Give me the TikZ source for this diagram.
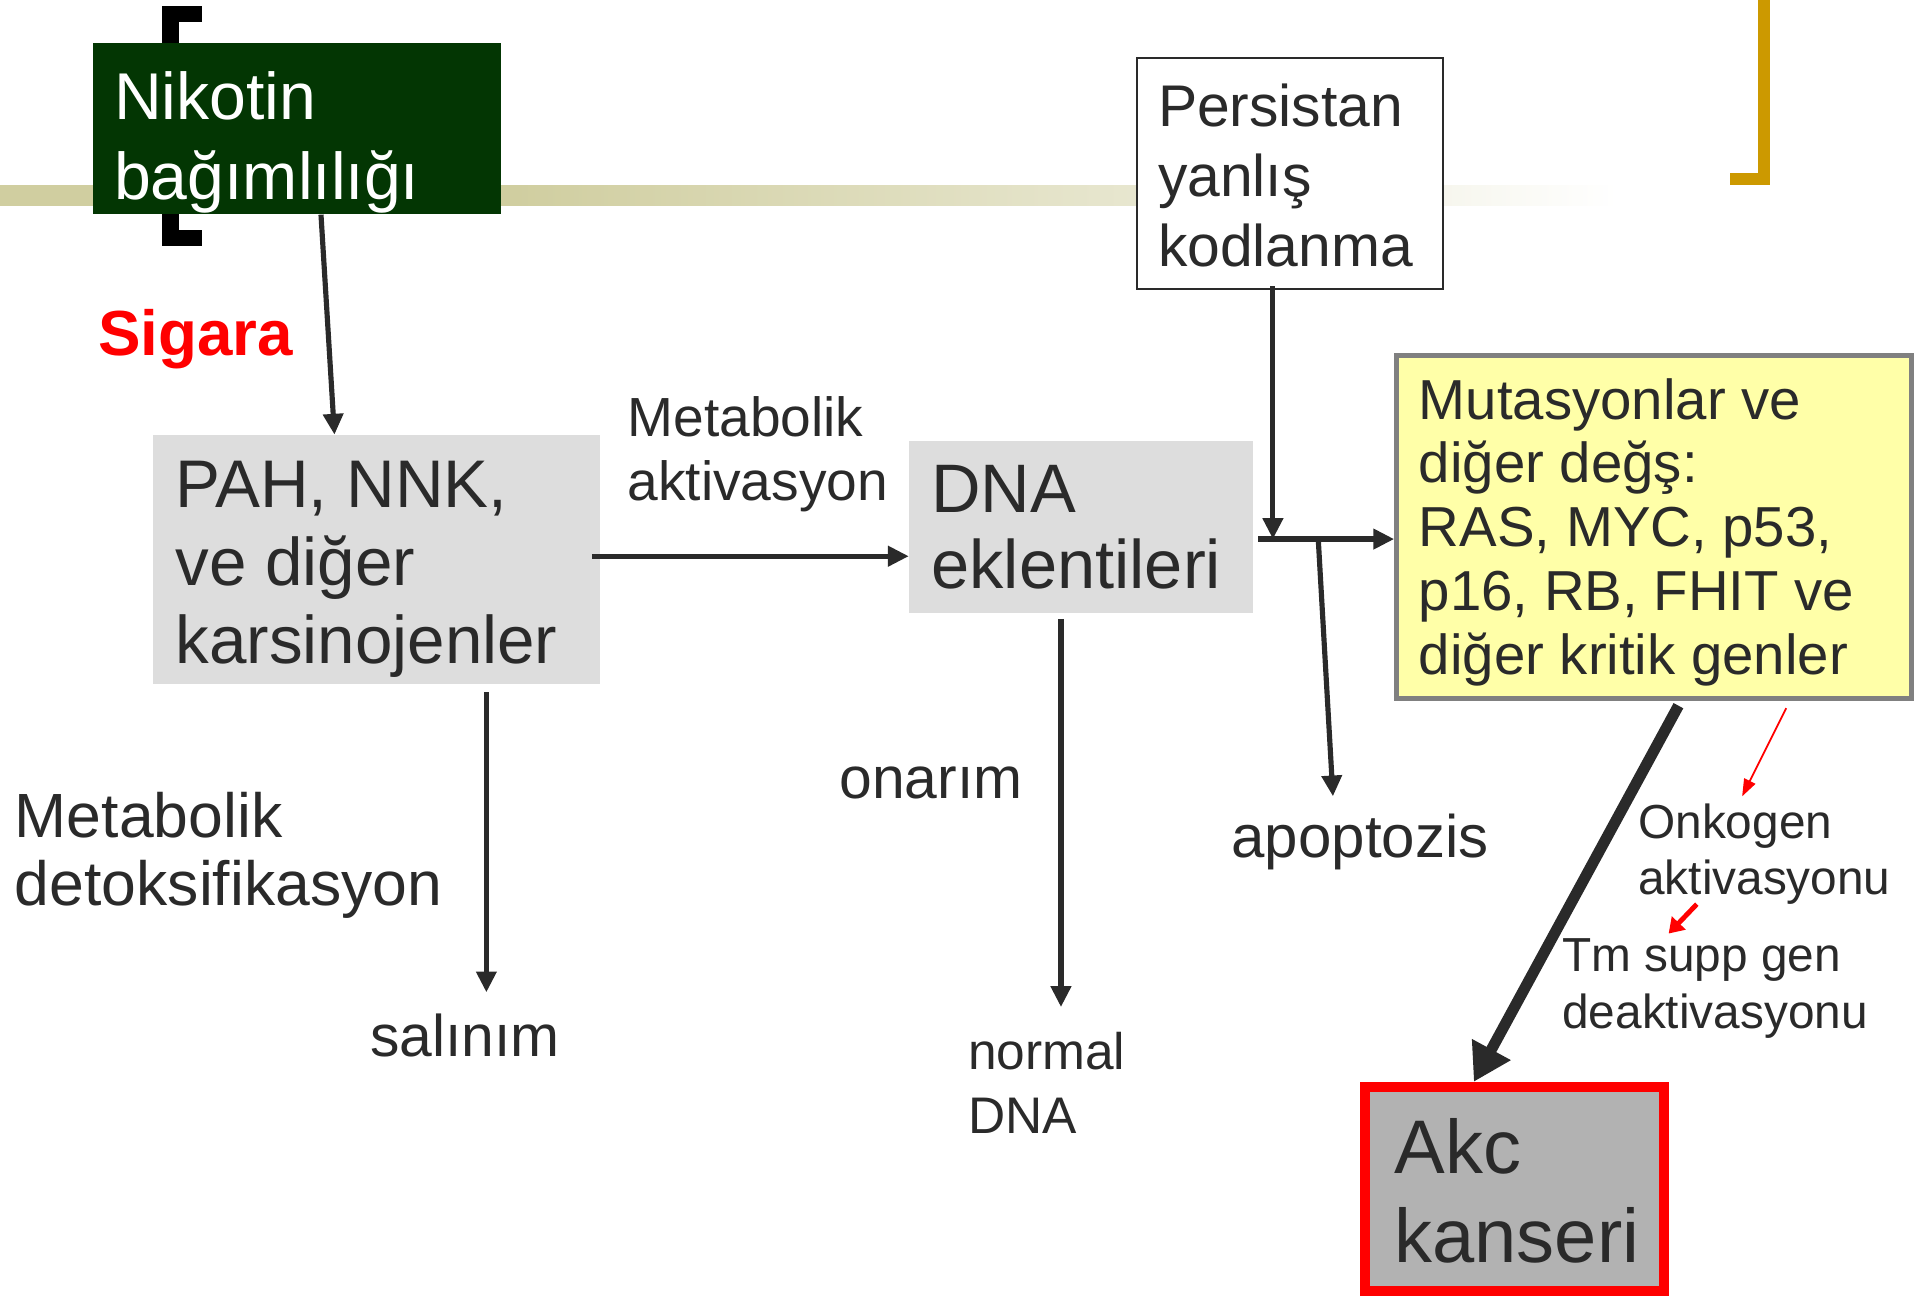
\documentclass[tikz,border=0pt]{standalone}
\usepackage{fontspec}
\setmainfont{Liberation Sans}
\usetikzlibrary{arrows.meta}
\definecolor{ink}{HTML}{2A2A2A}
\definecolor{nikgreen}{HTML}{033603}
\definecolor{band}{RGB}{208,206,160}
\definecolor{gold}{HTML}{CC9900}
\definecolor{boxgray}{HTML}{DDDDDD}
\definecolor{mutyellow}{HTML}{FFFFA8}
\definecolor{mutborder}{HTML}{808080}
\definecolor{akcgray}{HTML}{B2B2B2}
\definecolor{akcred}{HTML}{FF0000}
\tikzset{
  txt/.style={inner sep=0pt, anchor=north west, align=left, text=ink},
  txtb/.style={inner sep=0pt, anchor=base west, text=ink},
  boxn/.style={inner sep=0pt, rectangle},
  conn/.style={draw=ink, line width=4.2pt, -{Triangle[length=17pt,width=16pt]}},
  bigconn/.style={draw=ink, line width=9pt, -{Triangle[length=30pt,width=34pt]}},
  redthin/.style={draw=akcred, line width=1.5pt, -{Triangle[length=14pt,width=10pt]}},
  redthick/.style={draw=akcred, line width=4pt, -{Triangle[length=12pt,width=15pt]}}
}
\begin{document}
\begin{tikzpicture}[x=1pt,y=-1pt]
\useasboundingbox (0,0) rectangle (1568,1061);
% background band
\fill[band] (0,151) rectangle (420,168);
\shade[left color=band, right color=band!50] (420,151) rectangle (930,168);
\shade[left color=band!50, right color=white] (930,151) rectangle (1320,168);
% black bracket
\fill[black] (132,5) rectangle (165,18);
\fill[black] (132,5) rectangle (146,201);
\fill[black] (132,188) rectangle (165,201);
% gold bracket
\fill[gold] (1435,0) rectangle (1445,151);
\fill[gold] (1412,141) rectangle (1445,151);

% boxes
\node[boxn, fill=nikgreen, minimum width=333pt, minimum height=140pt] (nik) at (242.5,105) {};
\node[boxn, fill=white, draw=ink, line width=1.5pt, minimum width=250pt, minimum height=189pt] (pers) at (1053,141.5) {};
\node[boxn, fill=boxgray, minimum width=365pt, minimum height=203pt] (pah) at (307.5,456.5) {};
\node[boxn, fill=boxgray, minimum width=281pt, minimum height=140pt] (dna) at (882.5,430) {};
\node[boxn, fill=mutyellow, draw=mutborder, line width=4pt, minimum width=420pt, minimum height=280pt] (mut) at (1350,430) {};
\node[boxn, fill=akcgray, draw=akcred, line width=8pt, minimum width=244pt, minimum height=167pt] (akc) at (1236,970.5) {};

% texts
\node[txt, text=white, font={\fontsize{54}{66}\selectfont}] (tnik) at (93,50.8) {\strut Nikotin\\bağımlılığı};
\node[txt, font={\fontsize{48}{57}\selectfont}] (tpers) at (945,63.1) {\strut Persistan\\yanlış\\kodlanma};
\node[txtb, text=akcred, font={\fontsize{52}{60}\selectfont\bfseries}] (sigara) at (80,290) {Sigara};
\node[txt, font={\fontsize{55}{63.5}\selectfont}] (tpah) at (143,369.55) {\strut PAH, NNK,\\ve diğer\\karsinojenler};
\node[txt, font={\fontsize{45}{52}\selectfont}] (metakt) at (512,319.6) {\strut Metabolik\\aktivasyon};
\node[txt, font={\fontsize{56}{62}\selectfont}] (tdna) at (760,374.6) {\strut DNA\\eklentileri};
\node[txt, font={\fontsize{46}{52}\selectfont}] (tmut) at (1158,305.6) {\strut Mutasyonlar ve\\diğer değş:\\RAS, MYC, p53,\\p16, RB, FHIT ve\\diğer kritik genler};
\node[txt, font={\fontsize{51}{56}\selectfont}] (metdet) at (12,643.8) {\strut Metabolik\\detoksifikasyon};
\node[txtb, font={\fontsize{48}{56}\selectfont}] (sal) at (302,862) {salınım};
\node[txtb, font={\fontsize{48}{56}\selectfont}] (onar) at (685,652) {onarım};
\node[txt, font={\fontsize{42}{52}\selectfont}] (ndna) at (790,836.6) {\strut normal\\DNA};
\node[txtb, font={\fontsize{49}{56}\selectfont}] (apop) at (1005,700) {apoptozis};
\node[txt, font={\fontsize{39}{46}\selectfont}] (onk) at (1337,651.8) {\strut Onkogen\\aktivasyonu};
\node[txt, font={\fontsize{39}{46}\selectfont}] (tms) at (1275,760.8) {\strut Tm supp gen\\deaktivasyonu};
\node[txt, font={\fontsize{62}{72}\selectfont}] (takc) at (1138,907.6) {\strut Akc\\kanseri};

% connector ends
\coordinate (pahE) at ([xshift=-7pt,yshift=2.5pt]pah.east);
\coordinate (salend) at (397,810);
\coordinate (dnaend) at (866,822);
\coordinate (jn) at (1039,440);
\coordinate (apo) at (1076,440);
\coordinate (apoend) at (1088,650);
\coordinate (onkend) at (1422,650);
\coordinate (rs) at (1385,738);
\coordinate (re) at (1362,762);

% connectors
\draw[conn] ([xshift=19.5pt]nik.south) -- ([xshift=-34.5pt]pah.north);
\draw[conn] (pahE) -- (pahE -| dna.west);
\draw[conn] ([xshift=89.5pt,yshift=-7pt]pah.south) -- (salend);
\draw[conn] ([xshift=-16.5pt,yshift=-5pt]dna.south) -- (dnaend);
\draw[conn] ([xshift=-14pt,yshift=3pt]pers.south) -- (jn);
\draw[conn] ([xshift=4pt,yshift=-10pt]dna.east) -- ([yshift=-10pt]mut.west);
\draw[conn] (apo) -- (apoend);
\draw[bigconn] ([xshift=20pt,yshift=-4pt]mut.south) -- ([xshift=-33pt]akc.north);
\draw[redthin] ([xshift=108pt,yshift=-6pt]mut.south) -- (onkend);
\draw[redthick] (rs) -- (re);
\end{tikzpicture}
\end{document}
